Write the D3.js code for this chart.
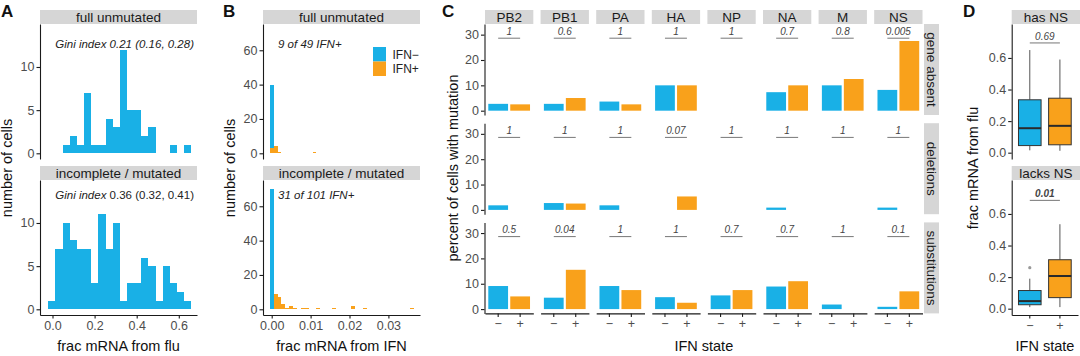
<!DOCTYPE html>
<html><head><meta charset="utf-8">
<script src="https://cdn.jsdelivr.net/npm/d3@7"></script>
<style>
body{margin:0;background:#fff;}
svg text{font-family:"Liberation Sans",Arial,Helvetica,sans-serif;}
</style></head><body>
<svg id="c" width="1080" height="356"></svg>
<script>
// ---------------- DATA ----------------
// Panel A: histogram of frac mRNA from flu
const aFacets = ["full unmutated", "incomplete / mutated"];
const aBinEdges = [-0.020, 0.014, 0.048, 0.082, 0.116, 0.150, 0.184, 0.218, 0.252, 0.286, 0.320,
                   0.354, 0.388, 0.422, 0.456, 0.490, 0.524, 0.558, 0.592, 0.626, 0.660];
const aFullCounts = [0, 0, 1, 2, 1, 7, 1, 1, 4, 3, 12, 5, 5, 2, 3, 0, 0, 1, 0, 1];
const aIncCounts  = [1, 7, 10, 8, 7, 7, 3, 11, 7, 10, 1, 3, 3, 6, 5, 1, 5, 3, 2, 1];
const aXTicks = [0, 0.2, 0.4, 0.6];
const aYTicks = [0, 5, 10];
const aGiniFull = "Gini index 0.21 (0.16, 0.28)";
const aGiniIncLabel = "Gini index";
const aGiniIncValue = " 0.36 (0.32, 0.41)";

// Panel B: histogram of frac mRNA from IFN (bin centres, bin width 0.001)
const bBinWidth = 0.001;
const bFullNegX = [0.000];
const bFullNegN = [40];
const bFullPosX = [0.000, 0.001, 0.002, 0.011];
const bFullPosN = [3, 4, 1, 1];
const bIncNegX = [0.000];
const bIncNegN = [70];
const bIncPosX = [0.001, 0.002, 0.003, 0.004, 0.005, 0.006, 0.008, 0.009, 0.012, 0.016, 0.021, 0.024, 0.036];
const bIncPosN = [9, 7, 3, 1, 2, 1, 1, 1, 1, 1, 2, 1, 1];
const bXTicks = [0, 0.01, 0.02, 0.03];
const bYTicks = [0, 20, 40, 60];
const bNotes = ["9 of 49 IFN+", "31 of 101 IFN+"];
const legendLabels = ["IFN\u2212", "IFN+"];

// Panel C: percent of cells with mutation
const genes = ["PB2", "PB1", "PA", "HA", "NP", "NA", "M", "NS"];
const mutTypes = ["gene absent", "deletions", "substitutions"];
const ifnStates = ["\u2212", "+"];
const cAbsentNeg = [2.7, 2.7, 3.6, 10.0, 0, 7.3, 10.0, 8.2];
const cAbsentPos = [2.5, 5.0, 2.5, 10.0, 0, 10.0, 12.5, 27.5];
const cDelNeg    = [1.8, 2.7, 1.8, 0, 0, 0.9, 0, 0.9];
const cDelPos    = [0, 2.5, 0, 5.3, 0, 0, 0, 0];
const cSubNeg    = [9.1, 4.5, 9.1, 4.7, 5.4, 8.9, 1.8, 0.9];
const cSubPos    = [5.0, 15.5, 7.5, 2.5, 7.5, 11.0, 0, 7.0];
const cAbsentP = ["1", "0.6", "1", "1", "1", "0.7", "0.8", "0.005"];
const cDelP    = ["1", "1", "1", "0.07", "1", "1", "1", "1"];
const cSubP    = ["0.5", "0.04", "1", "1", "0.7", "0.7", "1", "0.1"];
const cYTicks = [0, 10, 20, 30];

// Panel D: boxplots [min, q1, median, q3, max]
const dFacets = ["has NS", "lacks NS"];
const dHasNeg   = [0.015, 0.045, 0.155, 0.335, 0.65];
const dHasPos   = [0.012, 0.050, 0.170, 0.345, 0.59];
const dLacksNeg = [0.010, 0.025, 0.048, 0.115, 0.19];
const dLacksPos = [0.010, 0.070, 0.207, 0.310, 0.535];
const dLacksNegOutliers = [0.26];
const dHasNegOutliers = [];
const dP = ["0.69", "0.01"];
const dYTicks = [0, 0.2, 0.4, 0.6];

// ---------------- DRAWING ----------------
const svg = d3.select('#c');
const FONT = '"Liberation Sans", Arial, Helvetica, sans-serif';
const BLUE = '#19b0e6', ORANGE = '#f9a11b', STRIP = '#d6d6d6';
const ROW_TOP = [24, 180], ROW_H = 135;

function strip(x, y, w, h, label, rot) {
  svg.append('rect').attr('x', x).attr('y', y).attr('width', w).attr('height', h).attr('fill', STRIP);
  const t = svg.append('text').attr('font-size', 13.5).attr('fill', '#1a1a1a')
    .attr('text-anchor', 'middle').attr('dominant-baseline', 'central').text(label);
  if (rot) t.attr('transform', `translate(${x + w / 2 - 0.5},${y + h / 2}) rotate(90)`);
  else t.attr('x', x + w / 2).attr('y', y + h / 2 + 0.5);
}
function styleAxis(g) {
  g.attr('font-family', FONT).attr('font-size', 12.5);
  g.select('.domain').attr('stroke', '#1a1a1a').attr('stroke-width', 1.1);
  g.selectAll('.tick line').attr('stroke', '#1a1a1a').attr('stroke-width', 1.1);
  g.selectAll('.tick text').attr('fill', '#4d4d4d');
  return g;
}
function title(x, y, str, rot) {
  const t = svg.append('text').attr('font-size', 14.5).attr('fill', '#111').attr('text-anchor', 'middle').text(str);
  if (rot) t.attr('transform', `translate(${x},${y}) rotate(-90)`); else t.attr('x', x).attr('y', y);
}
function letter(x, y, s) {
  svg.append('text').attr('x', x).attr('y', y).attr('font-size', 17).attr('font-weight', 'bold').attr('fill', '#111').text(s);
}

// ===== Panel A =====
const aX0 = 40, aX1 = 197;
const ax = d3.scaleLinear().domain([-0.0594, 0.6865]).range([aX0, aX1]);
aFacets.forEach((f, r) => {
  const top = ROW_TOP[r], bot = top + ROW_H;
  const y = d3.scaleLinear().domain([-0.66, 14.98]).range([bot, top]);
  strip(aX0, top - 14, aX1 - aX0, 14, f);
  const counts = r === 0 ? aFullCounts : aIncCounts;
  svg.append('g').attr('shape-rendering', 'crispEdges').selectAll('rect')
    .data(counts.map((c, i) => ({ c, i })).filter(d => d.c > 0)).join('rect')
    .attr('x', d => Math.round(ax(aBinEdges[d.i])))
    .attr('width', d => Math.round(ax(aBinEdges[d.i + 1])) - Math.round(ax(aBinEdges[d.i])))
    .attr('y', d => y(d.c)).attr('height', d => y(0) - y(d.c)).attr('fill', BLUE);
  styleAxis(svg.append('g').attr('transform', `translate(${aX0},0)`)
    .call(d3.axisLeft(y).tickValues(aYTicks).tickSize(3.5).tickPadding(2).tickSizeOuter(0)));
  if (r === 1) {
    styleAxis(svg.append('g').attr('transform', `translate(0,${bot})`)
      .call(d3.axisBottom(ax).tickValues(aXTicks).tickFormat(d3.format('.1f')).tickSize(3.5).tickPadding(2.5).tickSizeOuter(0)));
  }
});
svg.append('text').attr('x', 194).attr('y', 47.5).attr('text-anchor', 'end').attr('font-size', 11.5)
  .attr('font-style', 'italic').attr('fill', '#222').text(aGiniFull);
const g2 = svg.append('text').attr('x', 194).attr('y', 198.5).attr('text-anchor', 'end').attr('font-size', 11.5).attr('fill', '#222');
g2.append('tspan').attr('font-style', 'italic').text(aGiniIncLabel);
g2.append('tspan').text(aGiniIncValue);
title(12, 168, "number of cells", true);
title((aX0 + aX1) / 2, 351, "frac mRNA from flu");
letter(1, 17, "A");

// ===== Panel B =====
const bX0 = 263, bX1 = 420;
const bx = d3.scaleLinear().domain([-0.002237, 0.038123]).range([bX0, bX1]);
[[bFullNegX, bFullNegN, bFullPosX, bFullPosN], [bIncNegX, bIncNegN, bIncPosX, bIncPosN]].forEach((set, r) => {
  const top = ROW_TOP[r], bot = top + ROW_H;
  const y = d3.scaleLinear().domain([-3.32, 75.3]).range([bot, top]);
  strip(bX0, top - 14, bX1 - bX0, 14, aFacets[r]);
  const series = [[set[0], set[1], BLUE], [set[2], set[3], ORANGE]];
  series.forEach(([xs, ns, col]) => {
    svg.append('g').attr('shape-rendering', 'crispEdges').selectAll('rect').data(xs.map((x, i) => ({ x, n: ns[i] }))).join('rect')
      .attr('x', d => bx(d.x - bBinWidth / 2)).attr('width', d => bx(d.x + bBinWidth / 2) - bx(d.x - bBinWidth / 2))
      .attr('y', d => y(d.n)).attr('height', d => y(0) - y(d.n)).attr('fill', col);
  });
  styleAxis(svg.append('g').attr('transform', `translate(${bX0},0)`)
    .call(d3.axisLeft(y).tickValues(bYTicks).tickSize(3.5).tickPadding(2).tickSizeOuter(0)));
  if (r === 1) {
    styleAxis(svg.append('g').attr('transform', `translate(0,${bot})`)
      .call(d3.axisBottom(bx).tickValues(bXTicks).tickFormat(d3.format('.2f')).tickSize(3.5).tickPadding(2.5).tickSizeOuter(0)));
  }
  svg.append('text').attr('x', 278).attr('y', r === 0 ? 48 : 199).attr('font-size', 11.5)
    .attr('font-style', 'italic').attr('fill', '#222').text(bNotes[r]);
});
// legend
[BLUE, ORANGE].forEach((col, i) => {
  svg.append('rect').attr('x', 373).attr('y', 47 + i * 14.5).attr('width', 13).attr('height', 14.5).attr('fill', col);
  svg.append('text').attr('x', 392.5).attr('y', 54.5 + i * 14.5).attr('dominant-baseline', 'central')
    .attr('font-size', 12).attr('fill', '#222').text(legendLabels[i]);
});
title(235, 168, "number of cells", true);
title((bX0 + bX1) / 2, 351, "frac mRNA from IFN");
letter(223, 17, "B");

// ===== Panel C =====
const fx = d3.scaleBand().domain(genes).range([485, 922.5]).paddingInner(0.131).paddingOuter(0);
const fy = d3.scaleBand().domain(mutTypes).range([24, 313.4]).paddingInner(0.0827).paddingOuter(0);
const ix = d3.scaleBand().domain(ifnStates).range([0, fx.bandwidth()]).paddingInner(0.1).paddingOuter(0.15);
const cNeg = [cAbsentNeg, cDelNeg, cSubNeg];
const cPos = [cAbsentPos, cDelPos, cSubPos];
const cP = [cAbsentP, cDelP, cSubP];
genes.forEach(g => strip(fx(g), 10, fx.bandwidth(), 14, g));
mutTypes.forEach((m, r) => {
  const top = fy(m), bot = top + fy.bandwidth();
  const y = d3.scaleLinear().domain([-1.7, 34.2]).range([bot, top]);
  strip(924, top, 15, fy.bandwidth(), m, true);
  genes.forEach((g, gi) => {
    const gx = fx(g);
    const vals = [cNeg[r][gi], cPos[r][gi]];
    const cg = svg.append('g').attr('transform', `translate(${gx},0)`);
    cg.selectAll('rect').data(ifnStates.map((s, i) => ({ s, v: vals[i], col: i ? ORANGE : BLUE })).filter(d => d.v > 0))
      .join('rect').attr('x', d => ix(d.s)).attr('width', ix.bandwidth())
      .attr('y', d => y(d.v)).attr('height', d => y(0) - y(d.v)).attr('fill', d => d.col);
    const ly = y(28.6);
    const xa = ix(ifnStates[0]) + ix.bandwidth() / 2, xb = ix(ifnStates[1]) + ix.bandwidth() / 2;
    cg.append('line').attr('x1', xa).attr('x2', xb).attr('y1', ly).attr('y2', ly).attr('stroke', '#777').attr('stroke-width', 1);
    cg.append('text').attr('x', (xa + xb) / 2).attr('y', ly - 3.2).attr('text-anchor', 'middle')
      .attr('font-size', 10).attr('font-style', 'italic').attr('fill', '#444').text(cP[r][gi]);
    if (r === 2) {
      styleAxis(cg.append('g').attr('transform', `translate(0,${bot})`)
        .call(d3.axisBottom(ix).tickSize(3.5).tickPadding(2.5).tickSizeOuter(0)));
    }
  });
  styleAxis(svg.append('g').attr('transform', `translate(484.5,0)`)
    .call(d3.axisLeft(y).tickValues(cYTicks).tickSize(3.5).tickPadding(2).tickSizeOuter(0)));
});
title(458, 168, "percent of cells with mutation", true);
title(703.8, 351, "IFN state");
letter(442, 17, "C");

// ===== Panel D =====
const dX0 = 1011.7, dX1 = 1078;
const dx = d3.scaleBand().domain(ifnStates).range([dX0, dX1]).paddingInner(0).paddingOuter(0.1);
const dBoxes = [[dHasNeg, dHasPos], [dLacksNeg, dLacksPos]];
const dOut = [[dHasNegOutliers, []], [dLacksNegOutliers, []]];
dFacets.forEach((f, r) => {
  const top = ROW_TOP[r], bot = top + ROW_H;
  const y = d3.scaleLinear().domain([-0.04, 0.815]).range([bot, top]);
  strip(dX0, top - 14, dX1 - dX0 + 2, 14, f);
  ifnStates.forEach((s, i) => {
    const st = dBoxes[r][i];
    const cx = dx(s) + dx.bandwidth() / 2, bw = dx.bandwidth() * 0.75;
    const g = svg.append('g');
    g.append('line').attr('x1', cx).attr('x2', cx).attr('y1', y(st[0])).attr('y2', y(st[1])).attr('stroke', '#555').attr('stroke-width', 1);
    g.append('line').attr('x1', cx).attr('x2', cx).attr('y1', y(st[3])).attr('y2', y(st[4])).attr('stroke', '#555').attr('stroke-width', 1);
    g.append('rect').attr('x', cx - bw / 2).attr('width', bw).attr('y', y(st[3])).attr('height', y(st[1]) - y(st[3]))
      .attr('fill', i ? ORANGE : BLUE).attr('stroke', '#333').attr('stroke-width', 1);
    g.append('line').attr('x1', cx - bw / 2).attr('x2', cx + bw / 2).attr('y1', y(st[2])).attr('y2', y(st[2]))
      .attr('stroke', '#2a2a2a').attr('stroke-width', 2);
    g.selectAll('circle').data(dOut[r][i]).join('circle').attr('cx', cx).attr('cy', d => y(d)).attr('r', 1.6).attr('fill', '#999');
  });
  const xa = dx(ifnStates[0]) + dx.bandwidth() / 2, xb = dx(ifnStates[1]) + dx.bandwidth() / 2;
  const ly = y(r === 0 ? 0.695 : 0.686);
  svg.append('line').attr('x1', xa).attr('x2', xb).attr('y1', ly).attr('y2', ly).attr('stroke', '#777').attr('stroke-width', 1);
  svg.append('text').attr('x', (xa + xb) / 2).attr('y', ly - 3.3).attr('text-anchor', 'middle').attr('font-size', 10)
    .attr('font-style', 'italic').attr('font-weight', r === 1 ? 'bold' : 'normal').attr('fill', '#444').text(dP[r]);
  styleAxis(svg.append('g').attr('transform', `translate(${dX0},0)`)
    .call(d3.axisLeft(y).tickValues(dYTicks).tickFormat(d3.format('.1f')).tickSize(3.5).tickPadding(2).tickSizeOuter(0)));
  if (r === 1) {
    styleAxis(svg.append('g').attr('transform', `translate(0,${bot})`)
      .call(d3.axisBottom(dx).tickSize(3.5).tickPadding(2.5).tickSizeOuter(0)));
  }
});
title(978, 168, "frac mRNA from flu", true);
title(1045, 351, "IFN state");
letter(963, 17, "D");
</script>
</body></html>
